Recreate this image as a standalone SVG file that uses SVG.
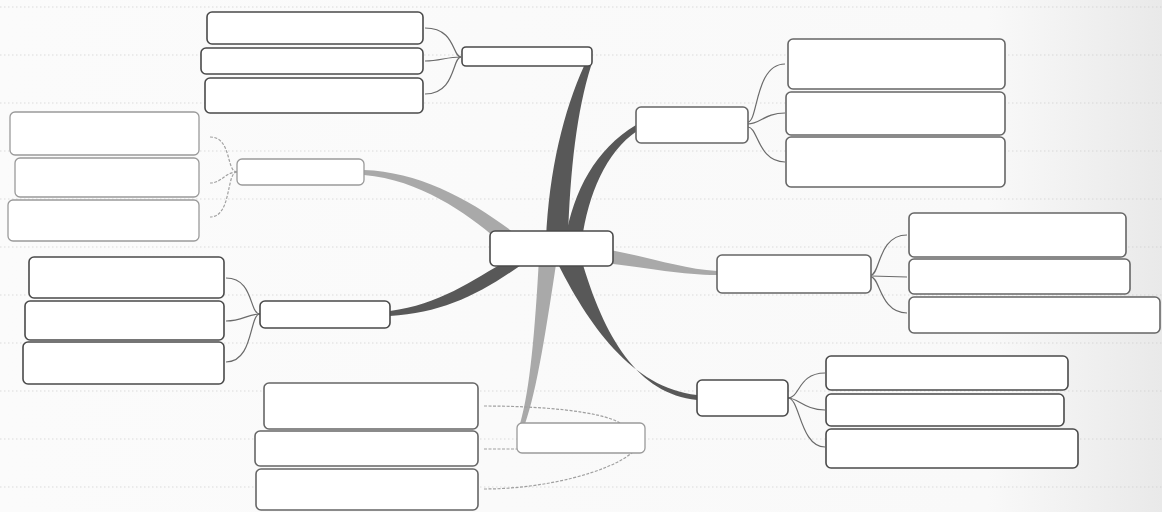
<svg xmlns="http://www.w3.org/2000/svg" width="1162" height="512" viewBox="0 0 1162 512">
<defs>
<linearGradient id="paper" x1="0" y1="0" x2="1" y2="0">
<stop offset="0" stop-color="#fbfbfb"/>
<stop offset="0.85" stop-color="#f9f9f9"/>
<stop offset="1" stop-color="#e9e9e9"/>
</linearGradient>
<style>
.ruled{stroke:#c8c8c8;stroke-width:1.2;stroke-dasharray:1.5 2.5;fill:none;opacity:0.6}
.box{fill:#fff;stroke:#4a4a4a;stroke-width:1.6}
.box.mid{stroke:#666}
.box.light{stroke:#9a9a9a;stroke-width:1.3}
.link{fill:none;stroke:#6a6a6a;stroke-width:1.2}
.link.light{stroke:#a0a0a0;stroke-dasharray:3 1.5}
.dark{fill:#585858}
.grey{fill:#a9a9a9}
</style>
</defs>
<rect width="1162" height="512" fill="url(#paper)"/>
<g id="ruled-lines">
<line class="ruled" x1="0" y1="7" x2="1162" y2="7"/>
<line class="ruled" x1="0" y1="55" x2="1162" y2="55"/>
<line class="ruled" x1="0" y1="103" x2="1162" y2="103"/>
<line class="ruled" x1="0" y1="151" x2="1162" y2="151"/>
<line class="ruled" x1="0" y1="199" x2="1162" y2="199"/>
<line class="ruled" x1="0" y1="247" x2="1162" y2="247"/>
<line class="ruled" x1="0" y1="295" x2="1162" y2="295"/>
<line class="ruled" x1="0" y1="343" x2="1162" y2="343"/>
<line class="ruled" x1="0" y1="391" x2="1162" y2="391"/>
<line class="ruled" x1="0" y1="439" x2="1162" y2="439"/>
<line class="ruled" x1="0" y1="487" x2="1162" y2="487"/>
</g>
<g id="connectors">
<path class="dark" d="M546 240 C549 170 564 110 584 66 L591 66 C577 110 570 170 568 240 Z"/>
<path class="dark" d="M565 240 C574 190 595 150 636 125 L637 131 C606 152 588 195 582 240 Z"/>
<path class="grey" d="M364 170 C420 172 472 200 518 236 L498 240 C465 212 420 180 364 175 Z"/>
<path class="dark" d="M390 311 C440 305 472 280 512 258 L528 260 C484 292 445 313 390 316 Z"/>
<path class="grey" d="M539 258 C535 330 530 390 520 424 L525 424 C537 390 546 330 557 258 Z"/>
<path class="dark" d="M555 258 C588 325 632 388 697 395 L697 400 C638 394 604 338 581 258 Z"/>
<path class="grey" d="M605 249 C650 257 682 269 717 271 L717 275 C682 275 650 268 605 263 Z"/>
<path class="link" d="M461 57 C452 57 456 28 425 28"/>
<path class="link" d="M461 57 C446 57 440 61 425 61"/>
<path class="link" d="M461 57 C452 57 456 94 425 94"/>
<path class="link light" d="M237 172 C226 172 232 137 210 137"/>
<path class="link light" d="M237 172 C225 172 222 183 210 183"/>
<path class="link light" d="M237 172 C226 172 232 217 210 217"/>
<path class="link" d="M260 314 C249 314 254 278 226 278"/>
<path class="link" d="M260 314 C248 314 242 321 226 321"/>
<path class="link" d="M260 314 C249 314 254 362 226 362"/>
<path class="link" d="M748 122 C758 122 755 64 785 64"/>
<path class="link" d="M748 124 C760 124 765 113 785 113"/>
<path class="link" d="M748 127 C758 127 758 162 785 162"/>
<path class="link" d="M871 275 C880 275 878 235 907 235"/>
<path class="link" d="M871 276 L907 277"/>
<path class="link" d="M871 277 C880 277 880 313 907 313"/>
<path class="link" d="M788 398 C800 398 798 373 825 373"/>
<path class="link" d="M788 398 C798 398 805 410 825 410"/>
<path class="link" d="M788 398 C800 398 800 447 825 447"/>
<path class="link light" d="M484 406 C540 406 600 411 620 423"/>
<path class="link light" d="M484 449 L517 449"/>
<path class="link light" d="M484 489 C545 489 610 472 633 452"/>
</g>
<g id="center"><rect class="box" x="490" y="231" width="123" height="35" rx="5"/></g>
<g id="node-top"><rect class="box" x="462" y="47" width="130" height="19" rx="4"/></g>
<g id="node-top-a"><rect class="box" x="207" y="12" width="216" height="32" rx="5"/></g>
<g id="node-top-b"><rect class="box" x="201" y="48" width="222" height="26" rx="5"/></g>
<g id="node-top-c"><rect class="box" x="205" y="78" width="218" height="35" rx="5"/></g>
<g id="node-leftmid"><rect class="box light" x="237" y="159" width="127" height="26" rx="5"/></g>
<g id="node-leftmid-a"><rect class="box light" x="10" y="112" width="189" height="43" rx="5"/></g>
<g id="node-leftmid-b"><rect class="box light" x="15" y="158" width="184" height="39" rx="5"/></g>
<g id="node-leftmid-c"><rect class="box light" x="8" y="200" width="191" height="41" rx="5"/></g>
<g id="node-leftlow"><rect class="box" x="260" y="301" width="130" height="27" rx="5"/></g>
<g id="node-leftlow-a"><rect class="box" x="29" y="257" width="195" height="41" rx="5"/></g>
<g id="node-leftlow-b"><rect class="box" x="25" y="301" width="199" height="39" rx="5"/></g>
<g id="node-leftlow-c"><rect class="box" x="23" y="342" width="201" height="42" rx="5"/></g>
<g id="node-bottom"><rect class="box light" x="517" y="423" width="128" height="30" rx="5"/></g>
<g id="node-bottom-a"><rect class="box mid" x="264" y="383" width="214" height="46" rx="5"/></g>
<g id="node-bottom-b"><rect class="box mid" x="255" y="431" width="223" height="35" rx="5"/></g>
<g id="node-bottom-c"><rect class="box mid" x="256" y="469" width="222" height="41" rx="5"/></g>
<g id="node-righttop"><rect class="box mid" x="636" y="107" width="112" height="36" rx="5"/></g>
<g id="node-righttop-a"><rect class="box mid" x="788" y="39" width="217" height="50" rx="5"/></g>
<g id="node-righttop-b"><rect class="box mid" x="786" y="92" width="219" height="43" rx="5"/></g>
<g id="node-righttop-c"><rect class="box mid" x="786" y="137" width="219" height="50" rx="5"/></g>
<g id="node-rightmid"><rect class="box mid" x="717" y="255" width="154" height="38" rx="5"/></g>
<g id="node-rightmid-a"><rect class="box mid" x="909" y="213" width="217" height="44" rx="5"/></g>
<g id="node-rightmid-b"><rect class="box mid" x="909" y="259" width="221" height="35" rx="5"/></g>
<g id="node-rightmid-c"><rect class="box mid" x="909" y="297" width="251" height="36" rx="5"/></g>
<g id="node-rightlow"><rect class="box" x="697" y="380" width="91" height="36" rx="5"/></g>
<g id="node-rightlow-a"><rect class="box" x="826" y="356" width="242" height="34" rx="5"/></g>
<g id="node-rightlow-b"><rect class="box" x="826" y="394" width="238" height="32" rx="5"/></g>
<g id="node-rightlow-c"><rect class="box" x="826" y="429" width="252" height="39" rx="5"/></g>
</svg>
